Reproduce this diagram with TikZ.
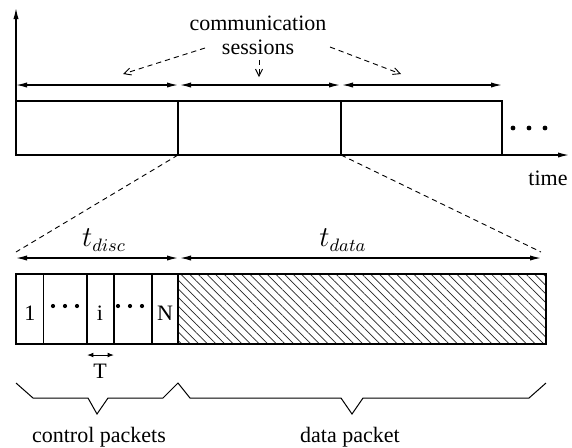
\documentclass[tikz,border=0pt]{standalone}
\usepackage{fontspec}
\setmainfont{Liberation Serif}
\usetikzlibrary{arrows.meta,patterns.meta}
\begin{document}
\begin{tikzpicture}[x=0.5pt,y=-0.5pt,
  line width=0.6pt,
  solidtip/.style={-{Latex[length=5.5pt,width=2.6pt]}},
  bothtips/.style={{Latex[length=5.5pt,width=2.6pt]}-{Latex[length=5.5pt,width=2.6pt]}},
  guide/.style={line width=0.45pt,dash pattern=on 2.6pt off 2pt},
  guidetip/.style={guide,-{Straight Barb[length=3.5pt,width=3.5pt]}},
  lbl/.style={font=\rmfamily\fontsize{11}{13}\selectfont,inner sep=0pt},
  mathlbl/.style={font=\fontsize{13.5}{15}\selectfont,inner sep=0pt},
]
\useasboundingbox (0,0) rectangle (572,447);

% time axes
\coordinate (O) at (16,155);
\coordinate (ytop) at (16,8);
\coordinate (xend) at (569,155);
\draw[solidtip] (O) -- (ytop);
\draw[solidtip] (O) -- (xend);
\node[lbl] (time) at (548,178) {time};

% communication sessions on the time line
\draw (16,101) rectangle (502,155);
\coordinate (c1t) at (178,101); \coordinate (c1b) at (178,155);
\coordinate (c2t) at (341,101); \coordinate (c2b) at (341,155);
\draw (c1t) -- (c1b);
\draw (c2t) -- (c2b);
\foreach \k/\xx in {1/513,2/529,3/545}
  \fill (\xx,128) circle[radius=1.2pt] coordinate (more\k);

% session extents
\coordinate (sa0) at (16,85);  \coordinate (sa1) at (178,85);
\coordinate (sb0) at (180,85); \coordinate (sb1) at (340,85);
\coordinate (sc0) at (342,85); \coordinate (sc1) at (502,85);
\draw[bothtips] (sa0) -- (sa1);
\draw[bothtips] (sb0) -- (sb1);
\draw[bothtips] (sc0) -- (sc1);

\node[lbl,align=center] (sess) at (258,35) {communication\\[-1pt]sessions};
\coordinate (p1s) at (205,48); \coordinate (p1e) at (123,74);
\coordinate (p2s) at (259,60); \coordinate (p2e) at (259,77);
\coordinate (p3s) at (330,47); \coordinate (p3e) at (401,74);
\draw[guidetip] (p1s) -- (p1e);
\draw[guidetip] (p2s) -- (p2e);
\draw[guidetip] (p3s) -- (p3e);

% zoom of one session
\coordinate (zl) at (16,252);
\coordinate (zr) at (541,252);
\draw[guide] (c1b) -- (zl);
\draw[guide] (c2b) -- (zr);

\coordinate (da0) at (16,258);  \coordinate (da1) at (178,258);
\coordinate (db0) at (180,258); \coordinate (db1) at (541,258);
\draw[bothtips] (da0) -- (da1);
\draw[bothtips] (db0) -- (db1);
\node[mathlbl] (tdisc) at (104,240) {$t_{disc}$};
\node[mathlbl] (tdata) at (343,240) {$t_{data}$};

% session frame: control slots and data packet
\fill[pattern={Lines[angle=-45,distance=3.05pt,line width=0.35pt]},pattern color=black!85]
  (178,274) rectangle (546,344);
\draw (16,274) rectangle (546,344);
\foreach \xx in {43.5,87,114,152,178}
  \draw (\xx,274) -- (\xx,344);
\node[lbl] (slot1) at (30,313) {1};
\node[lbl] (sloti) at (100,313) {i};
\node[lbl] (slotN) at (165,313) {N};
\foreach \xx in {53,65,77,118,130,142}
  \fill (\xx,306) circle[radius=1.05pt];

\coordinate (tl) at (87,355); \coordinate (tr) at (114,355);
\draw[line width=0.5pt,{Latex[length=3.2pt,width=2.4pt]}-{Latex[length=3.2pt,width=2.4pt]}] (tl) -- (tr);
\node[lbl] (T) at (100,371) {T};

% braces
\draw[line width=0.5pt] (16,383) -- (33,398) -- (88,398) -- (97,414) -- (108,398)
  -- (163,398) -- (178,383) -- (190,398) -- (341,398) -- (352,414) -- (363,398)
  -- (529,398) -- (546,383);
\node[lbl] (ctrl) at (99,437) {control packets};
\node[lbl] (data) at (350,437) {data packet};
\end{tikzpicture}
\end{document}
